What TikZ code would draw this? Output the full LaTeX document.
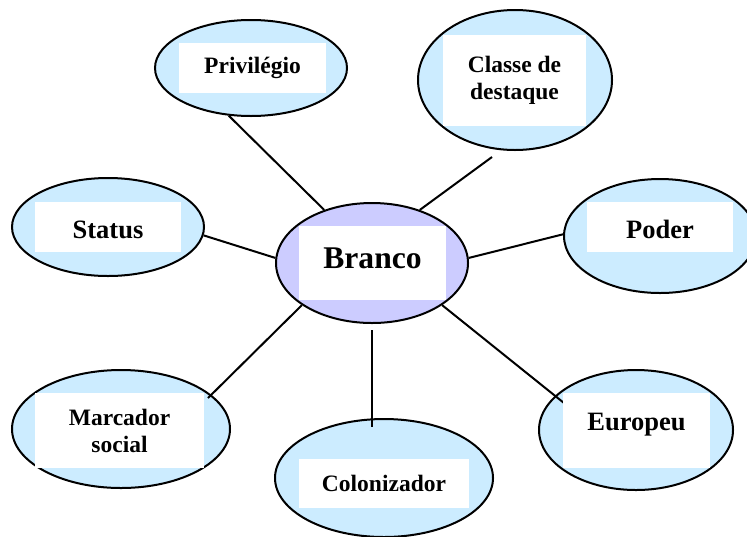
\documentclass[tikz,border=0pt]{standalone}
\usepackage{fontspec}
\setmainfont{Liberation Serif}
\usetikzlibrary{shapes.geometric}
\definecolor{skyfill}{RGB}{204,236,255}
\definecolor{lilacfill}{RGB}{204,204,255}

\begin{document}
\begin{tikzpicture}[
    x=0.5pt, y=-0.5pt,
    line width=1pt,
    bubble/.style={ellipse, draw, fill=skyfill, inner sep=0pt},
    tag/.style={rectangle, fill=white, inner sep=0pt, align=center,
        font=\bfseries\fontsize{11.75}{13.5}\selectfont},
    bigtag/.style={tag, font=\bfseries\fontsize{13.25}{15}\selectfont}
]
\useasboundingbox (0,0) rectangle (747,536);

%-------------------------
% Bubbles
%-------------------------
\node[bubble, minimum width=96pt, minimum height=48pt] (privilegio) at (251,68) {};
\node[bubble, minimum width=97pt, minimum height=70pt] (classe) at (515,80) {};
\node[bubble, minimum width=96pt, minimum height=49pt] (status) at (108,227) {};
\node[bubble, fill=lilacfill, minimum width=96pt, minimum height=60pt] (branco) at (372,263) {};
\node[bubble, minimum width=96pt, minimum height=57pt] (poder) at (660,236) {};
\node[bubble, minimum width=109pt, minimum height=59pt] (marcador) at (121,429) {};
\node[bubble, minimum width=109pt, minimum height=59pt] (colonizador) at (384,478) {};
\node[bubble, minimum width=97pt, minimum height=60pt] (europeu) at (636,430) {};

%-------------------------
% Connectors
%-------------------------
\coordinate (classe-end) at (492,157);
\coordinate (marcador-end) at (208,398);
\coordinate (colonizador-top) at (372,330);
\coordinate (colonizador-end) at (372,427);
\coordinate (europeu-end) at (564,403);

\draw (privilegio.245) -- (branco.132);
\draw (classe-end) -- (branco.48);
\draw (status.355) -- (branco.177);
\draw (branco.3) -- (poder.179);
\draw (marcador-end) -- (branco.211);
\draw (colonizador-top) -- (colonizador-end);
\draw (branco.329) -- (europeu-end);

%-------------------------
% Text boxes
%-------------------------
\node[tag, minimum width=73.5pt, minimum height=25pt] (privilegio-txt) at (252.5,68) {Privilégio};
\node[tag, minimum width=71.5pt, minimum height=45.5pt] (classe-txt) at (514.5,80.5) {Classe de\\destaque};
\node[bigtag, text height=12pt, minimum width=73pt, minimum height=25pt] (status-txt) at (108,227) {Status};
\node[tag, font=\bfseries\fontsize{15.8}{18}\selectfont, text depth=5pt,
    minimum width=73.5pt, minimum height=37pt] (branco-txt) at (372.5,263) {Branco};
\node[bigtag, text height=11.5pt, minimum width=73pt, minimum height=25pt] (poder-txt) at (660,227) {Poder};
\node[tag, minimum width=84.5pt, minimum height=37.5pt] (marcador-txt) at (119.5,430.5) {Marcador\\social};
\node[tag, minimum width=85pt, minimum height=24.5pt] (colonizador-txt) at (384,483.5) {Colonizador};
\node[bigtag, text depth=9pt, minimum width=73.5pt, minimum height=37.5pt] (europeu-txt) at (636.5,430.5) {Europeu};
\end{tikzpicture}
\end{document}
